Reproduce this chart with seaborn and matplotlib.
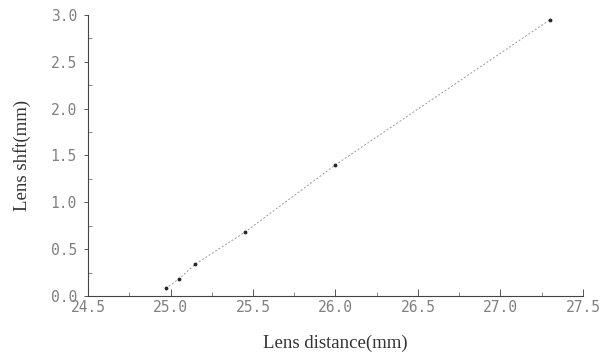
import numpy as np
import matplotlib.pyplot as plt
import seaborn as sns
from matplotlib.ticker import MultipleLocator

# values
lens_distance = [24.97, 25.05, 25.15, 25.45, 26.0, 27.3]
lens_shift = [0.08, 0.18, 0.34, 0.68, 1.40, 2.95]

sns.set_style('ticks')
plt.rcParams['font.family'] = ['DejaVu Sans Mono', 'DejaVu Sans']

fig = plt.figure(figsize=(6.13, 3.57), dpi=100)
ax = fig.add_axes([0.1436, 0.171, 0.8074, 0.787])

sns.lineplot(x=lens_distance, y=lens_shift, ax=ax, color='#999999', lw=0.7,
             linestyle=(0, (2, 2)), marker='o', markersize=2.0,
             markerfacecolor='#222222', markeredgecolor='#222222')

ax.set_xlim(24.5, 27.5)
ax.set_ylim(0, 3.0)
ax.xaxis.set_major_locator(MultipleLocator(0.5))
ax.xaxis.set_minor_locator(MultipleLocator(0.25))
ax.yaxis.set_major_locator(MultipleLocator(0.5))
ax.yaxis.set_minor_locator(MultipleLocator(0.25))
ax.xaxis.set_major_formatter(lambda v, p: f'{v:.1f}')
ax.yaxis.set_major_formatter(lambda v, p: f'{v:.1f}')

sns.despine(ax=ax)
for s in ['left', 'bottom']:
    ax.spines[s].set_color('#444444')
    ax.spines[s].set_linewidth(0.8)
    ax.spines[s].set_linestyle((0, (6, 1)))

ax.tick_params(axis='x', which='major', direction='in', length=5, width=0.7,
               colors='#555555', labelsize=10.5, pad=3, labelcolor='#808080')
ax.tick_params(axis='x', which='minor', direction='in', length=3, width=0.6, colors='#777777')
ax.tick_params(axis='y', which='major', direction='out', length=3, width=0.7,
               colors='#555555', labelsize=10.5, pad=5, labelcolor='#808080')
ax.tick_params(axis='y', which='minor', direction='in', length=3, width=0.6, colors='#777777')

ax.set_xlabel('Lens distance(mm)', family='Liberation Serif', fontsize=13.5,
              color='#333333', labelpad=14)
ax.set_ylabel('Lens shft(mm)', family='Liberation Serif', fontsize=13.5,
              color='#333333', labelpad=14)

fig.savefig('out.png', dpi=100)
